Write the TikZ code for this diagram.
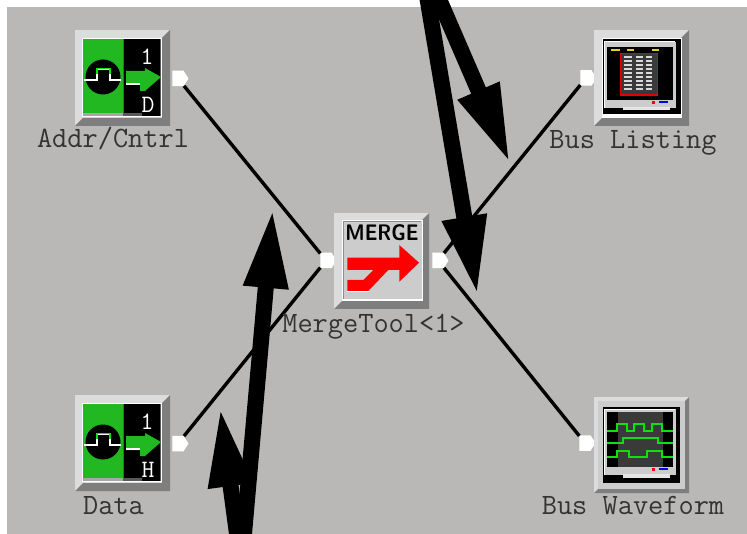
\documentclass[tikz,border=0pt]{standalone}
\usetikzlibrary{arrows.meta,shapes.symbols}
\definecolor{panelgray}{HTML}{B9B8B6}
\definecolor{bevellight}{HTML}{DCDCDC}
\definecolor{beveldark}{HTML}{7E7E7E}
\definecolor{facegray}{HTML}{CCCCCC}
\definecolor{sourcegreen}{HTML}{22B822}
\definecolor{wavegreen}{HTML}{10E010}
\definecolor{screengray}{HTML}{3A3A3A}
\tikzset{
  iconbox/.style={anchor=north west,inner sep=0pt,minimum width=95pt,minimum height=96pt},
  portmark/.style={shape=signal,signal to=east,signal pointer angle=115,fill=white,
    inner sep=0pt,minimum width=16pt,minimum height=15.5pt},
  wire/.style={draw=black,line width=3.4pt},
  bigarrow/.style={draw=black,line width=16pt,-{Triangle[length=80pt,width=41pt]}},
  ttlabel/.style={anchor=base,inner sep=0pt,text=black!80,font=\fontsize{29.5}{29.5}\selectfont\ttfamily},
  bevelframe/.pic={
    \fill[bevellight] (0,0) rectangle (95,96);
    \fill[beveldark] (95,0) -- ({95-#1},#1) -- ({95-#1},{96-#1}) -- ({#1},{96-#1}) -- (0,96) -- (95,96) -- cycle;
  },
  srcicon/.pic={
    \pic {bevelframe=8};
    \fill[white] (7,8) rectangle (87,87);
    \fill[black!65] (8,9) rectangle (86,86);
    \fill[sourcegreen] (8,9) rectangle (48,83);
    \fill[black!35] (8,83) rectangle (48,86);
    \fill[black] (49,9) rectangle (85,83);
    \fill[black] (67,65) rectangle (85,86);
    \fill[black] (28,47) circle (17.5);
    \draw[white,line width=1.6pt] (9,50) -- (22,50) -- (22,39.5) -- (35,39.5) -- (35,50) -- (46,50);
    \draw[wavegreen,line width=1.6pt] (22,44) -- (22,38.5) -- (35,38.5) -- (35,44);
    \fill[sourcegreen] (51,41) -- (70,41) -- (70,38) -- (86,47) -- (70,61) -- (65,61) -- (65,55) -- (51,55) -- cycle;
    \draw[white,line width=1.2pt] (51,54) -- (65,54);
    \node (one) at (72,27) [text=white,inner sep=0pt,font=\fontsize{25}{25}\selectfont\ttfamily] {1};
    \node (letter) at (73,75) [text=white,inner sep=0pt,font=\fontsize{25}{25}\selectfont\ttfamily] {#1};
  },
  monitorbits/.pic={
    \fill[facegray] (10,#1) rectangle (81.7,78);
    \draw[white,line width=1pt] (10.5,78) -- (10.5,#1) -- (81.2,#1);
    \fill[red] (57.6,71) rectangle (61,74.4);
    \fill[blue] (65,71) rectangle (74.3,72.8);
    \fill[white!90!black] (28.7,77) rectangle (76,80.5);
  },
}
\begin{document}
\begin{tikzpicture}[x=1pt,y=-1pt]
  \clip (0,0) rectangle (747,534);
  \fill[panelgray] (7,7) rectangle (747,534);
  % icon places
  \node (addr) at (75,30) [iconbox] {};
  \node (data) at (75,395) [iconbox] {};
  \node (merge) at (334,213) [iconbox] {};
  \node (listing) at (594,30) [iconbox] {};
  \node (waveform) at (594,397) [iconbox] {};
  % ports
  \node (addrport) at (178,78.5) [portmark] {};
  \node (dataport) at (178,443.5) [portmark] {};
  \node (mergein) at (326,260.5) [portmark] {};
  \node (mergeout) at (438,260.5) [portmark] {};
  \node (listingport) at (586,78) [portmark] {};
  \node (waveformport) at (585,443) [portmark] {};
  % wires
  \draw[wire] (addrport) -- (mergein);
  \draw[wire] (dataport) -- (mergein);
  \draw[wire] (mergeout) -- (listingport);
  \draw[wire] (mergeout) -- (waveformport);
  % source icons
  \pic at (addr.north west) {srcicon=D};
  \pic at (data.north west) {srcicon=H};
  % merge icon
  \begin{scope}[shift={(merge.north west)}]
    \pic {bevelframe=8};
    \fill[white] (8,7) rectangle (89,88);
    \fill[facegray] (9,8) rectangle (87.5,86.5);
    \draw[black!45,line width=1pt] (9.5,86) -- (9.5,8.5) -- (87,8.5);
    \node (mergetitle) at (48,20) [inner sep=0pt,text=black,font=\fontsize{22.5}{22.5}\selectfont\sffamily\bfseries] {\scalebox{0.88}[1]{MERGE}};
    \fill[red] (13.3,44.7) -- (65.3,44.7) -- (65.3,32) -- (85,49.7) -- (65.3,68.7) -- (65.3,57)
      -- (54.3,57) -- (34.3,78) -- (13.3,78) -- (13.3,67) -- (29.3,67) -- (39.3,57) -- (13.3,57) -- cycle;
    \draw[white,line width=1pt] (13.3,79) -- (35,79);
  \end{scope}
  % listing icon
  \begin{scope}[shift={(listing.north west)}]
    \pic {bevelframe=8};
    \fill[white] (7.7,7.7) rectangle (87.7,87.7);
    \fill[black] (8.7,8.7) rectangle (86.7,84);
    \pic {monitorbits=11.7};
    \fill[black] (13.3,17.3) rectangle (78.7,70);
    \foreach \xa/\xb in {17/26,32.7/40,57.7/65}
      \fill[yellow!85!black] (\xa,19) rectangle (\xb,21);
    \fill[screengray] (26.7,23.3) rectangle (63.3,65);
    \draw[red!90!black,line width=1.5pt] (26.7,23.3) rectangle (63.3,65);
    \foreach \ya in {26.7,30.7,...,60}
      \foreach \xa/\xb in {30.3/37.7,42/48.7,51.7/57.7}
        \fill[white!85!black] (\xa,\ya-0.9) rectangle (\xb,\ya+0.9);
  \end{scope}
  % waveform icon
  \begin{scope}[shift={(waveform.north west)}]
    \pic {bevelframe=4};
    \fill[facegray] (4,4) rectangle (91,92);
    \fill[black] (9.3,9.7) rectangle (86,86.3);
    \pic {monitorbits=12.3};
    \fill[black] (13.3,14.7) rectangle (78.7,69.7);
    \fill[screengray] (24.3,14.7) rectangle (69.3,69.7);
    \draw[wavegreen,line width=1.7pt] (13.3,33.7) -- (22.7,33.7) -- (22.7,27.3) -- (33.3,27.3) -- (33.3,33.7)
      -- (40.3,33.7) -- (40.3,27.3) -- (50.3,27.3) -- (50.3,33.7) -- (57.7,33.7) -- (57.7,27.3)
      -- (67.7,27.3) -- (67.7,33.7) -- (78.7,33.7);
    \draw[wavegreen,line width=1.7pt] (13.3,46.3) -- (29.3,46.3) -- (29.3,40.7) -- (64.3,40.7) -- (64.3,46.3) -- (78.7,46.3);
    \draw[wavegreen,line width=1.7pt] (13.3,60.3) -- (23.3,60.3) -- (23.3,54) -- (35.3,54) -- (35.3,60.3)
      -- (52.7,60.3) -- (52.7,54) -- (67.7,54) -- (67.7,60.3) -- (78.7,60.3);
  \end{scope}
  % labels
  \node (addrlabel) at (113,148) [ttlabel] {Addr/Cntrl};
  \node (datalabel) at (113.5,514) [ttlabel] {Data};
  \node (mergelabel) at (373.5,333) [ttlabel] {MergeTool<1>};
  \node (listinglabel) at (633,149) [ttlabel] {Bus Listing};
  \node (waveformlabel) at (633,514) [ttlabel] {Bus Waveform};
  % heavy arrows
  \coordinate (topa) at (435,-10);
  \coordinate (topb) at (426,-10);
  \coordinate (bota) at (243,545);
  \coordinate (botb) at (238.5,545);
  \coordinate (tipa) at (510.3,164);
  \coordinate (tipb) at (477.6,296);
  \coordinate (tipc) at (272.8,208);
  \coordinate (tipd) at (220,406.7);
  \draw[bigarrow] (topa) -- (tipa);
  \draw[bigarrow] (topb) -- (tipb);
  \draw[bigarrow] (bota) -- (tipc);
  \draw[bigarrow] (botb) -- (tipd);
\end{tikzpicture}
\end{document}
